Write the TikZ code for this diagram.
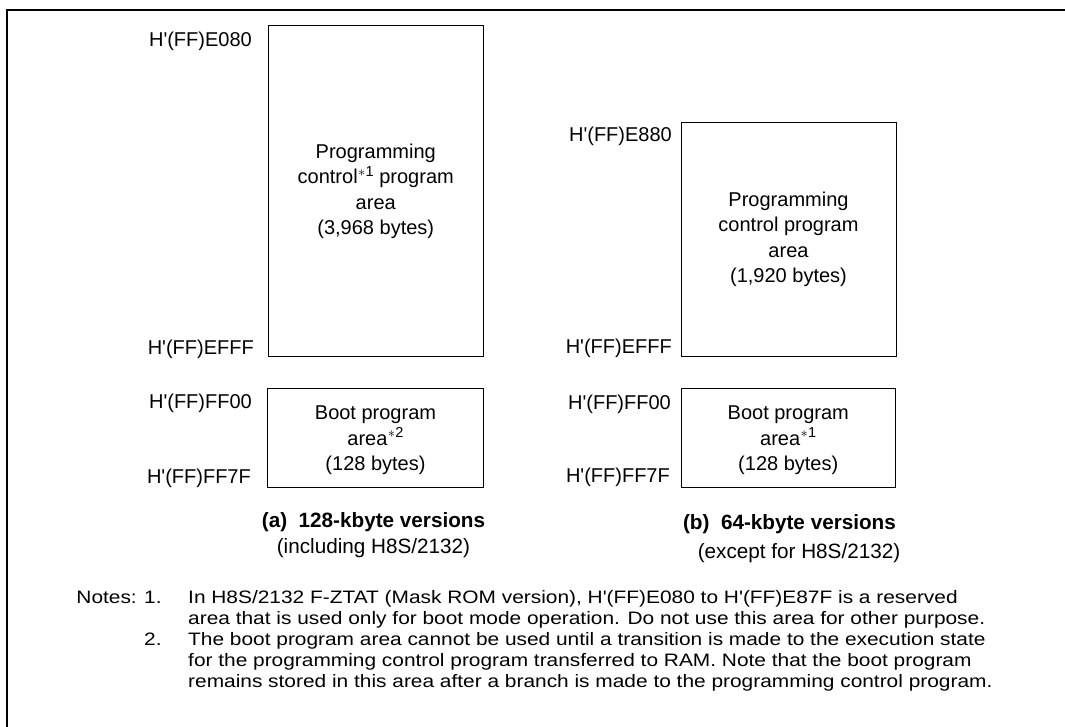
\documentclass[tikz,border=0pt]{standalone}
\usepackage{fontspec}
\setmainfont{Liberation Sans}[Ligatures=TeXOff]
\newfontfamily\notefont{Liberation Sans}[Ligatures=TeXOff,FakeStretch=1.16]
\begin{document}
\begin{tikzpicture}[x=1pt,y=-1pt,
  area/.style={draw=black,line width=1pt,inner sep=0pt,align=center,
    font=\fontsize{20}{25.5}\selectfont},
  addr/.style={anchor=base east,inner sep=0pt,font=\fontsize{20}{24}\selectfont},
  capt/.style={anchor=base,inner sep=0pt,font=\fontsize{20.7}{24}\selectfont},
  note/.style={anchor=base west,inner sep=0pt,font=\notefont\fontsize{18}{21}\selectfont}]
\newcommand{\starnote}[1]{\raisebox{0.7ex}{\fontsize{14.5}{14.5}\selectfont\kern0.5pt$\ast$\kern0.3pt#1}}
\useasboundingbox (0,0) rectangle (1065,727);
\draw[line width=2pt] (1065,10) -- (6.5,10) -- (6.5,727);
% (a)
\node[area,minimum width=215.5pt,minimum height=330.5pt] (pa) at (375.75,191.25)
  {Programming\\control\starnote{1} program\\area\\(3,968 bytes)};
\node[area,minimum width=215.5pt,minimum height=99pt] (ba) at (375.5,437.5) {};
\node[area,draw=none,anchor=center] (bat) at (375.5,440.5)
  {Boot program\\area\starnote{2}\\(128 bytes)};
\node[addr] (a1) at (252,47) {H'(FF)E080};
\node[addr] (a2) at (254,354) {H'(FF)EFFF};
\node[addr] (a3) at (252,408) {H'(FF)FF00};
\node[addr] (a4) at (251,483) {H'(FF)FF7F};
\node[capt,font=\fontsize{20.7}{24}\selectfont\bfseries] (ca) at (373.5,527) {(a)\ \ 128-kbyte versions};
\node[capt] (ca2) at (373.5,553) {(including H8S/2132)};
% (b)
\node[area,minimum width=215pt,minimum height=233pt] (pb) at (788.5,239.5)
  {Programming\\control program\\area\\(1,920 bytes)};
\node[area,minimum width=214.5pt,minimum height=99pt] (bb) at (788.25,437.5) {};
\node[area,draw=none,anchor=center] (bbt) at (788.25,440.5)
  {Boot program\\area\starnote{1}\\(128 bytes)};
\node[addr] (b1) at (672,142) {H'(FF)E880};
\node[addr] (b2) at (672,353) {H'(FF)EFFF};
\node[addr] (b3) at (671,409) {H'(FF)FF00};
\node[addr] (b4) at (670,482) {H'(FF)FF7F};
\node[capt,font=\fontsize{20.7}{24}\selectfont\bfseries] (cb) at (789.5,529) {(b)\ \ 64-kbyte versions};
\node[capt] (cb2) at (799,558) {(except for H8S/2132)};
% notes
\node[note,anchor=base east] (n0) at (137,603) {Notes:};
\node[note] (n1) at (144,603) {1.};
\node[note] (n1a) at (188,603) {In H8S/2132 F-ZTAT (Mask ROM version), H'(FF)E080 to H'(FF)E87F is a reserved};
\node[note] (n1b) at (188,624) {area that is used only for boot mode operation. Do not use this area for other purpose.};
\node[note] (n2) at (144,645) {2.};
\node[note] (n2a) at (188,645) {The boot program area cannot be used until a transition is made to the execution state};
\node[note] (n2b) at (188,666) {for the programming control program transferred to RAM. Note that the boot program};
\node[note] (n2c) at (188,687) {remains stored in this area after a branch is made to the programming control program.};
\end{tikzpicture}
\end{document}
